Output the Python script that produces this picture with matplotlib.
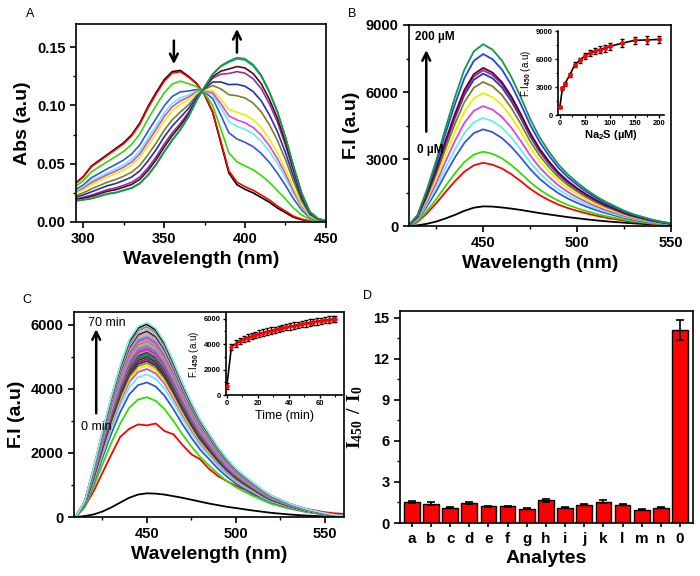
import numpy as np
import matplotlib
matplotlib.use('Agg')
import matplotlib.pyplot as plt
from matplotlib.ticker import MultipleLocator, FormatStrFormatter

plt.rcParams['font.family'] = ['Liberation Sans', 'DejaVu Sans']
plt.rcParams['font.weight'] = 'bold'
plt.rcParams['axes.labelweight'] = 'bold'
plt.rcParams['mathtext.fontset'] = 'custom'
plt.rcParams['mathtext.rm'] = 'Liberation Serif:bold'
plt.rcParams['mathtext.sf'] = 'Liberation Sans:bold'
plt.rcParams['mathtext.tt'] = 'Liberation Sans'
plt.rcParams['mathtext.bf'] = 'Liberation Sans:bold'
plt.rcParams['axes.linewidth'] = 1.2

# ---- panel A: absorbance titration ----
wl_a = np.arange(295, 451, 5)
abs_start = [0.033, 0.039, 0.048, 0.053, 0.058, 0.063, 0.068, 0.075, 0.085, 0.099,
             0.111, 0.122, 0.129, 0.130, 0.125, 0.119, 0.109, 0.094, 0.068, 0.042,
             0.032, 0.028, 0.025, 0.021, 0.017, 0.012, 0.008, 0.004, 0.002, 0.0005,
             0.0, 0.0]
abs_end = [0.018, 0.019, 0.020, 0.022, 0.024, 0.025, 0.027, 0.029, 0.033, 0.040,
           0.049, 0.060, 0.070, 0.079, 0.090, 0.104, 0.116, 0.127, 0.134, 0.138,
           0.141, 0.140, 0.135, 0.126, 0.112, 0.095, 0.073, 0.048, 0.025, 0.009,
           0.003, 0.001]
# fraction converted for each trace (read at 400 nm)
frac_a = [0.0, 0.02, 0.18, 0.36, 0.46, 0.51, 0.57, 0.70, 0.79, 0.89, 0.93, 0.99, 1.0]
colors_a = ['#000000', '#ff0000', '#33dd00', '#3355dd', '#66eeee', '#dd44dd', '#eeee00',
            '#808020', '#2233aa', '#8833aa', '#660022', '#22aa88', '#119944']

# ---- panel B: emission vs Na2S ----
wl_b = np.arange(410, 551, 5)
prof_b = [0.0, 0.06, 0.20, 0.36, 0.54, 0.71, 0.86, 0.96, 1.0, 0.97,
          0.91, 0.82, 0.71, 0.59, 0.49, 0.41, 0.34, 0.285, 0.24, 0.20,
          0.165, 0.135, 0.11, 0.085, 0.065, 0.05, 0.035, 0.024, 0.015]
black_b = [0, 30, 100, 200, 340, 500, 680, 820, 880, 870,
           830, 780, 720, 650, 580, 520, 460, 400, 350, 300,
           255, 215, 180, 150, 120, 95, 75, 55, 40]
peaks_b = [2830, 3330, 4330, 4840, 5370, 5950, 6450, 6820, 6970, 7080, 7700, 8140]
colors_b = ['#ff0000', '#33dd00', '#3355dd', '#66eeee', '#dd44dd', '#eeee00',
            '#808020', '#3333bb', '#8833aa', '#660022', '#2244ee', '#119944']
na2s = [0, 5, 10, 20, 30, 40, 50, 60, 70, 80, 90, 100, 125, 150, 175, 200]
fi_b = [870, 2850, 3350, 4300, 5400, 5850, 6350, 6650, 6850, 7000, 7150, 7350, 7700, 8000, 8050, 8100]
fi_b_err = [80, 150, 200, 250, 300, 300, 350, 350, 350, 400, 400, 400, 400, 400, 400, 400]

# ---- panel C: emission vs time ----
wl_c = np.arange(410, 561, 5)
prof_c = [0.0, 0.08, 0.25, 0.44, 0.62, 0.78, 0.91, 0.98, 1.0, 0.97,
          0.90, 0.80, 0.69, 0.59, 0.50, 0.43, 0.36, 0.30, 0.25, 0.21,
          0.175, 0.14, 0.11, 0.09, 0.07, 0.055, 0.04, 0.03, 0.02, 0.012, 0.006]
black_c = [0, 30, 80, 170, 300, 450, 600, 700, 740, 730,
           700, 650, 600, 540, 480, 420, 370, 320, 280, 240,
           200, 165, 130, 105, 80, 60, 45, 32, 20, 14, 10]
red_c = [30, 320, 800, 1380, 1950, 2500, 2750, 2890, 2860, 2920,
         2680, 2580, 2250, 1960, 1800, 1500, 1280, 1120, 980, 860,
         700, 600, 520, 440, 360, 300, 250, 200, 150, 120, 100]
peaks_c = [3740, 4200, 4450, 4620, 4720, 4800, 4870, 4930, 4990, 5040,
           5090, 5140, 5190, 5240, 5300, 5360, 5420, 5480, 5540, 5600,
           5660, 5730, 5800, 5870, 5940, 6020, 6070]
colors_c = ['#33dd00', '#3355dd', '#66eeee', '#dd44dd', '#eeee00', '#999900', '#222288',
            '#882288', '#881122', '#118811', '#118888', '#2233bb', '#ff8800', '#8833ff',
            '#ff3399', '#3399ff', '#99cc33', '#cc6699', '#ff66cc', '#6666cc', '#999999',
            '#cc99cc', '#333333', '#bbbbbb', '#888888', '#000000', '#88eeee']
t_min = [0, 3, 6, 8.5, 11, 13.5, 16, 18.5, 21, 23.5, 26, 28.5, 31, 33.5, 36, 38.5,
         41, 43.5, 46, 48.5, 51, 53.5, 56, 58.5, 61, 63.5, 66, 68.5, 70]
fi_c = [700, 3800, 4050, 4250, 4400, 4520, 4640, 4740, 4830, 4910, 4990, 5060, 5130,
        5200, 5270, 5330, 5400, 5460, 5520, 5580, 5630, 5690, 5740, 5790, 5840, 5890,
        5930, 5970, 6000]

# ---- panel D: selectivity ----
analytes = ['a', 'b', 'c', 'd', 'e', 'f', 'g', 'h', 'i', 'j', 'k', 'l', 'm', 'n', '0']
ratio = [1.54, 1.42, 1.13, 1.47, 1.22, 1.22, 1.05, 1.66, 1.13, 1.35, 1.57, 1.35, 0.98, 1.13, 14.09]
ratio_err = [0.08, 0.08, 0.05, 0.07, 0.05, 0.06, 0.06, 0.09, 0.05, 0.06, 0.08, 0.06, 0.05, 0.06, 0.73]


def style_main(ax):
    ax.tick_params(which='major', direction='out', length=4, width=1.2, labelsize=10.5,
                   top=False, right=False)
    ax.tick_params(which='minor', direction='out', length=2.5, width=1.0, top=False, right=False)


def style_inset(ax):
    ax.spines['top'].set_visible(False)
    ax.spines['right'].set_visible(False)
    ax.tick_params(which='major', direction='out', length=2.5, width=1.0, labelsize=5.5, pad=1)
    ax.tick_params(which='minor', direction='out', length=1.5, width=0.8)


fig = plt.figure(figsize=(7, 5.76), dpi=100)

# Panel A
ax = fig.add_axes([0.1086, 0.6146, 0.357, 0.344])
start = np.array(abs_start)
end = np.array(abs_end)
for f, c in zip(frac_a, colors_a):
    ax.plot(wl_a, (1 - f) * start + f * end, color=c, lw=1.2)
ax.set_xlim(295.5, 450)
ax.set_ylim(0, 0.17)
ax.xaxis.set_major_locator(MultipleLocator(50))
ax.xaxis.set_minor_locator(MultipleLocator(25))
ax.yaxis.set_major_locator(MultipleLocator(0.05))
ax.yaxis.set_minor_locator(MultipleLocator(0.025))
ax.yaxis.set_major_formatter(FormatStrFormatter('%.2f'))
style_main(ax)
ax.set_xlabel('Wavelength (nm)', fontsize=14, labelpad=3)
ax.set_ylabel('Abs (a.u)', fontsize=14, labelpad=4)
ax.annotate('', xy=(356, 0.133), xytext=(356, 0.158),
            arrowprops=dict(arrowstyle='->', lw=1.8, color='k', mutation_scale=14))
ax.annotate('', xy=(395, 0.168), xytext=(395, 0.143),
            arrowprops=dict(arrowstyle='->', lw=1.8, color='k', mutation_scale=14))

# Panel B
ax = fig.add_axes([0.5843, 0.6076, 0.374, 0.349])
ax.plot(wl_b, black_b, color='k', lw=1.3)
for p, c in zip(peaks_b, colors_b):
    ax.plot(wl_b, p * np.array(prof_b), color=c, lw=1.3)
ax.set_xlim(410.5, 550)
ax.set_ylim(0, 9000)
ax.xaxis.set_major_locator(MultipleLocator(50))
ax.xaxis.set_minor_locator(MultipleLocator(25))
ax.yaxis.set_major_locator(MultipleLocator(3000))
ax.yaxis.set_minor_locator(MultipleLocator(1500))
style_main(ax)
ax.set_xlabel('Wavelength (nm)', fontsize=14, labelpad=3)
ax.set_ylabel('F.I (a.u)', fontsize=14, labelpad=4)
ax.annotate('', xy=(419.7, 8000), xytext=(419.7, 4100),
            arrowprops=dict(arrowstyle='->', lw=1.8, color='k', mutation_scale=14))
ax.text(413.5, 8450, '200 µM', fontsize=8.5, va='center', ha='left')
ax.text(414.5, 3400, '0 µM', fontsize=8.5, va='center', ha='left', zorder=5)

axi = fig.add_axes([0.797, 0.8003, 0.1514, 0.1458])
axi.errorbar(na2s, fi_b, yerr=fi_b_err, color='k', lw=1.2, ecolor='k', elinewidth=0.9,
             capsize=1.5, marker='o', ms=2.5, mfc='red', mec='red', zorder=3)
axi.set_xlim(-4, 209)
axi.set_ylim(0, 9000)
axi.xaxis.set_major_locator(MultipleLocator(50))
axi.xaxis.set_minor_locator(MultipleLocator(25))
axi.yaxis.set_major_locator(MultipleLocator(3000))
axi.yaxis.set_minor_locator(MultipleLocator(1500))
style_inset(axi)
axi.set_xlabel('Na$_{\\mathsf{2}}$S (µM)', fontsize=8, labelpad=1)
axi.set_ylabel('F.I$_{\\mathtt{450}}$ (a.u)', fontsize=7, fontweight='normal', labelpad=2)

# Panel C
ax = fig.add_axes([0.1057, 0.1024, 0.386, 0.356])
ax.plot(wl_c, black_c, color='k', lw=1.3)
ax.plot(wl_c, red_c, color='#ff0000', lw=1.3)
for p, c in zip(peaks_c, colors_c):
    ax.plot(wl_c, p * np.array(prof_c), color=c, lw=1.3)
ax.set_xlim(409, 561)
ax.set_ylim(0, 6400)
ax.xaxis.set_major_locator(MultipleLocator(50))
ax.xaxis.set_minor_locator(MultipleLocator(25))
ax.yaxis.set_major_locator(MultipleLocator(2000))
ax.yaxis.set_minor_locator(MultipleLocator(1000))
style_main(ax)
ax.set_xlabel('Wavelength (nm)', fontsize=14, labelpad=3)
ax.set_ylabel('F.I (a.u)', fontsize=14, labelpad=4)
ax.annotate('', xy=(421.5, 5950), xytext=(421.5, 3150),
            arrowprops=dict(arrowstyle='->', lw=1.8, color='k', mutation_scale=14))
ax.text(417, 6060, '70 min', fontsize=9, fontweight='normal', va='center', ha='left')
ax.text(413, 2800, '0 min', fontsize=9, fontweight='normal', va='center', ha='left')

axi = fig.add_axes([0.3229, 0.3142, 0.1657, 0.1424])
axi.errorbar(t_min, fi_c, yerr=250, color='k', lw=1.2, ecolor='k', elinewidth=0.8,
             capsize=1.2, marker='o', ms=2.2, mfc='red', mec='red', zorder=3)
axi.set_xlim(-0.5, 74.5)
axi.set_ylim(0, 6450)
axi.xaxis.set_major_locator(MultipleLocator(20))
axi.xaxis.set_minor_locator(MultipleLocator(10))
axi.yaxis.set_major_locator(MultipleLocator(2000))
axi.yaxis.set_minor_locator(MultipleLocator(1000))
style_inset(axi)
axi.set_xlabel('Time (min)', fontsize=9, fontweight='normal', labelpad=2)
axi.set_ylabel('F.I$_{\\mathtt{450}}$ (a.u)', fontsize=7, fontweight='normal', labelpad=2)

# Panel D
ax = fig.add_axes([0.5714, 0.092, 0.4186, 0.368])
xpos = np.arange(len(analytes))
ax.bar(xpos, ratio, width=0.82, color='#ff0000', edgecolor='k', lw=1.0,
       yerr=ratio_err, error_kw=dict(ecolor='k', elinewidth=1.2, capsize=3, capthick=1.2))
ax.set_xlim(-0.62, 14.68)
ax.set_ylim(0, 15.5)
ax.set_xticks(xpos)
ax.set_xticklabels(analytes)
ax.yaxis.set_major_locator(MultipleLocator(3))
ax.yaxis.set_minor_locator(MultipleLocator(1.5))
style_main(ax)
ax.tick_params(axis='x', which='major', length=3, labelsize=11)
ax.set_xlabel('Analytes', fontsize=14, labelpad=3)
ax.set_ylabel('$\\mathrm{I_{450}\\ /\\ I_0}$', fontsize=14, labelpad=6)

# panel letters
fig.text(30 / 700, 1 - 14 / 576, 'A', fontsize=9, fontweight='normal', ha='center', va='center')
fig.text(352 / 700, 1 - 14 / 576, 'B', fontsize=9, fontweight='normal', ha='center', va='center')
fig.text(27 / 700, 1 - 300 / 576, 'C', fontsize=9, fontweight='normal', ha='center', va='center')
fig.text(368 / 700, 1 - 296 / 576, 'D', fontsize=9, fontweight='normal', ha='center', va='center')

fig.savefig('out.png', dpi=100)
